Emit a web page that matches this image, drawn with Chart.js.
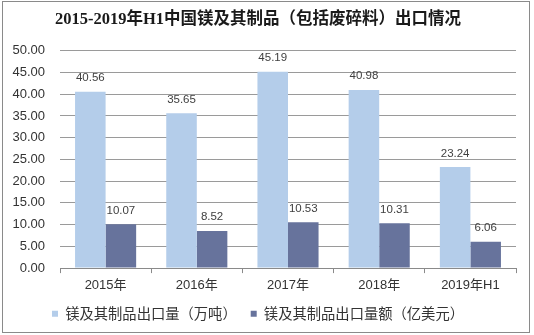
<!DOCTYPE html>
<html>
<head>
<meta charset="utf-8">
<script src="https://cdn.jsdelivr.net/npm/chart.js@4.4.1/dist/chart.umd.min.js"></script>
<style>
  html, body { margin: 0; padding: 0; background: #ffffff; }
  canvas { display: block; }
</style>
</head>
<body>
<canvas id="chart" width="534" height="335"></canvas>
<script>
// Export volume and value of magnesium and its products
const years = ['2015年', '2016年', '2017年', '2018年', '2019年H1'];
const volumeWanTon = [40.56, 35.65, 45.19, 40.98, 23.24];
const valueYiUSD = [10.07, 8.52, 10.53, 10.31, 6.06];
const seriesNames = ['镁及其制品出口量（万吨）', '镁及其制品出口量额（亿美元）'];
const yTicks = [0, 5, 10, 15, 20, 25, 30, 35, 40, 45, 50];

const sansFont = '"Liberation Sans", "Noto Sans CJK SC", sans-serif';

// Grey frame around the whole figure
const frame = {
  id: 'frame',
  beforeDraw(chart) {
    const ctx = chart.ctx;
    ctx.save();
    ctx.fillStyle = '#ffffff';
    ctx.fillRect(0, 0, chart.width, chart.height);
    ctx.strokeStyle = '#8a8a8a';
    ctx.lineWidth = 1;
    ctx.strokeRect(2.5, 1.5, 527, 331);
    ctx.restore();
  }
};

// Value labels above each bar
const valueLabels = {
  id: 'valueLabels',
  afterDatasetsDraw(chart) {
    const ctx = chart.ctx;
    ctx.save();
    ctx.font = '11.5px ' + sansFont;
    ctx.fillStyle = '#404040';
    ctx.textAlign = 'center';
    ctx.textBaseline = 'bottom';
    chart.data.datasets.forEach((ds, i) => {
      chart.getDatasetMeta(i).data.forEach((bar, j) => {
        ctx.fillText(ds.data[j].toFixed(2), bar.x, bar.y - 8);
      });
    });
    ctx.restore();
  }
};

new Chart(document.getElementById('chart'), {
  type: 'bar',
  data: {
    labels: years,
    datasets: [
      { label: seriesNames[0], data: volumeWanTon, backgroundColor: '#b4cdea' },
      { label: seriesNames[1], data: valueYiUSD, backgroundColor: '#67739c' }
    ]
  },
  options: {
    responsive: false,
    animation: false,
    devicePixelRatio: 1,
    layout: { padding: { left: 0, right: 18, top: 0, bottom: 4 } },
    datasets: {
      bar: { categoryPercentage: 0.67, barPercentage: 1.0 }
    },
    scales: {
      x: {
        afterFit(axis) { axis.height -= 6; },
        grid: {
          display: true,
          offset: true,
          drawOnChartArea: false,
          drawTicks: true,
          tickLength: 5,
          color: '#8a8a8a'
        },
        border: { display: true, color: '#8a8a8a', width: 1 },
        ticks: {
          color: '#333333',
          font: { size: 13, family: sansFont },
          padding: 5
        }
      },
      y: {
        min: 0,
        max: 50,
        afterBuildTicks(axis) {
          axis.ticks = yTicks.map(v => ({ value: v }));
        },
        afterFit(axis) { axis.width = 60; },
        grid: { color: '#9a9a9a', drawTicks: false, lineWidth: 1 },
        border: { display: false },
        ticks: {
          color: '#333333',
          font: { size: 13, family: sansFont },
          padding: 15,
          callback: v => Number(v).toFixed(2)
        }
      }
    },
    plugins: {
      title: {
        display: true,
        text: '2015-2019年H1中国镁及其制品（包括废碎料）出口情况',
        color: '#1a1a1a',
        font: { size: 16.5, weight: 'bold', family: '"Liberation Serif", "Noto Sans CJK SC", serif', lineHeight: 1.2 },
        padding: { top: 10, bottom: 21 }
      },
      legend: {
        position: 'bottom',
        labels: {
          boxWidth: 6,
          boxHeight: 6,
          padding: 14,
          color: '#333333',
          font: { size: 14.3, family: '"Noto Sans CJK SC", sans-serif' }
        }
      },
      tooltip: { enabled: false }
    }
  },
  plugins: [frame, valueLabels]
});
</script>
</body>
</html>
